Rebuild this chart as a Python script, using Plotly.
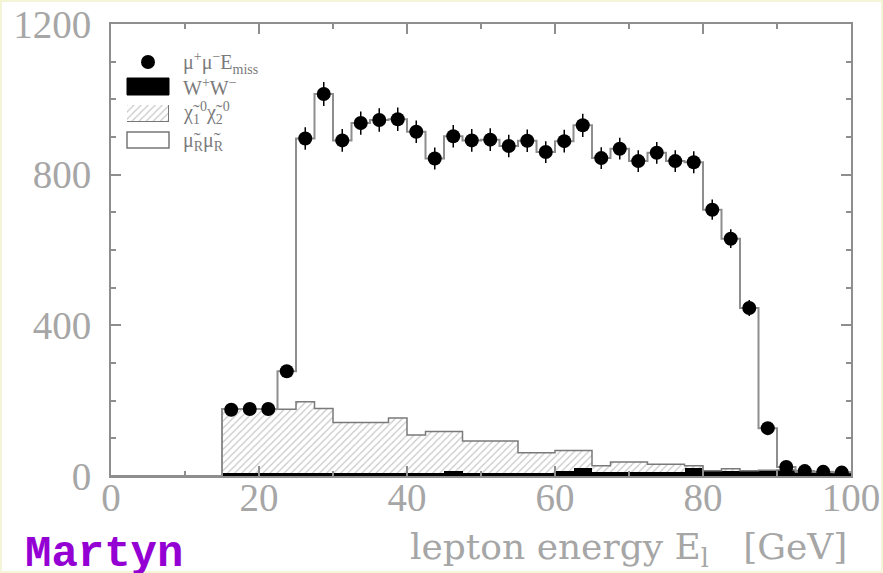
import plotly.graph_objects as go

# Histogram binning: 40 bins of 2.5 GeV from 0 to 100 GeV
bin_edges = [2.5 * i for i in range(41)]
bin_centers = [(a + b) / 2 for a, b in zip(bin_edges[:-1], bin_edges[1:])]
bin_width = 2.5

# Monte Carlo components per bin (events)
ww_counts = [0, 0, 0, 0, 0, 0,
             8, 8, 8, 8, 8, 8, 8, 8, 8, 8,
             8, 8, 12, 9, 9, 9, 9, 9, 14, 20,
             10, 10, 10, 10, 10, 22, 14, 14, 14, 14,
             16, 10, 10, 10]
chi_counts = [0, 0, 0, 0, 0, 0,
              169, 169, 169, 169, 189, 171, 134, 134, 134, 146,
              101, 110, 106, 84, 84, 84, 53, 53, 54, 48,
              17, 27, 27, 21, 21, 5, 0, 5, 0, 1,
              0, 0, 0, 0]
smuon_counts = [0, 0, 0, 0, 0, 0,
                1, 1, 1, 101, 699, 835, 749, 795, 803, 793,
                805, 725, 784, 798, 800, 783, 828, 798, 821, 863,
                817, 832, 799, 827, 805, 806, 693, 611, 432, 112,
                8, 3, 1, 0]

# Measured mu+ mu- E_miss events (bins from 15 to 100 GeV)
data_x = bin_centers[6:]
data_counts = [176, 178, 178, 278, 896, 1014, 891, 937, 945, 947,
               914, 843, 902, 891, 893, 876, 890, 860, 889, 931,
               844, 869, 836, 858, 836, 833, 707, 630, 446, 127,
               24, 13, 11, 9]
data_errors = [13, 13, 13, 17, 30, 32, 30, 31, 31, 31,
               30, 29, 30, 30, 30, 30, 30, 29, 30, 31,
               29, 29, 29, 29, 29, 29, 27, 25, 21, 11,
               5, 4, 3, 3]

x_ticks = [0, 20, 40, 60, 80, 100]
y_ticks = [0, 400, 800, 1200]

grey = "#8e8e8e"
label_grey = "#a6a6a6"
hatch_pattern = dict(shape="/", fgcolor="#8a8a8a", bgcolor="white", size=5, solidity=0.22)

lower_stack = [w + c for w, c in zip(ww_counts, chi_counts)]
total_stack = [l + s for l, s in zip(lower_stack, smuon_counts)]

fig = go.Figure()

fig.add_trace(go.Bar(x=bin_centers, y=ww_counts, width=bin_width,
                     marker=dict(color="black", line=dict(width=0)), showlegend=False))
fig.add_trace(go.Bar(x=bin_centers, y=chi_counts, width=bin_width,
                     marker=dict(color="#8a8a8a", pattern=hatch_pattern, line=dict(width=0)),
                     showlegend=False))
fig.add_trace(go.Bar(x=bin_centers, y=smuon_counts, width=bin_width,
                     marker=dict(color="rgba(255,255,255,0)", line=dict(width=0)),
                     showlegend=False))

# Outlines of the stacked histograms
fig.add_trace(go.Scatter(x=bin_edges, y=lower_stack + [lower_stack[-1]], mode="lines",
                         line=dict(shape="hv", color="#7a7a7a", width=1.5), showlegend=False))
fig.add_trace(go.Scatter(x=bin_edges, y=total_stack + [total_stack[-1]], mode="lines",
                         line=dict(shape="hv", color=grey, width=2), showlegend=False))

# Data points with statistical errors
fig.add_trace(go.Scatter(x=data_x, y=data_counts, mode="markers",
                         marker=dict(color="black", size=14),
                         error_y=dict(type="data", array=data_errors, color="black",
                                      thickness=1.5, width=0),
                         showlegend=False))

# Legend swatch with the hatch pattern, on its own small axes
L, R, T, B = 111, 851, 24, 476
W, H = R - L, B - T


def px(xp):
    return (xp - L) / W


def py(yp):
    return (B - yp) / H


fig.add_trace(go.Bar(x=[0.5], y=[1], width=1, xaxis="x2", yaxis="y2",
                     marker=dict(color="#8a8a8a", pattern=hatch_pattern,
                                 line=dict(color="#777", width=1.5)),
                     showlegend=False, hoverinfo="skip"))

axis_common = dict(showline=True, linecolor=grey, linewidth=2, mirror="allticks",
                   ticks="inside", ticklen=10, tickwidth=1.5, tickcolor=grey,
                   showgrid=False, zeroline=False, ticklabeloverflow="allow",
                   automargin=False,
                   tickfont=dict(family="Liberation Serif", size=39, color=label_grey))

fig.update_layout(
    width=883, height=573,
    margin=dict(l=L, r=883 - R, t=T, b=573 - B, autoexpand=False),
    paper_bgcolor="white", plot_bgcolor="white",
    barmode="stack", bargap=0,
    xaxis=dict(range=[0, 100], tickvals=x_ticks, ticklabelstandoff=-14,
               minor=dict(dtick=10, ticks="inside", ticklen=5, tickcolor=grey),
               **axis_common),
    yaxis=dict(range=[0, 1200], tickvals=y_ticks, ticklabelstandoff=10,
               minor=dict(dtick=100, ticks="inside", ticklen=5, tickcolor=grey),
               **axis_common),
    xaxis2=dict(domain=[px(127), px(169)], range=[0, 1], visible=False, anchor="y2"),
    yaxis2=dict(domain=[py(122), py(105)], range=[0, 1], visible=False, anchor="x2"),
)

# Legend: marker, filled box, empty box
shapes = [
    dict(type="circle", xref="paper", yref="paper",
         x0=px(141), x1=px(155), y0=py(69), y1=py(55),
         fillcolor="black", line=dict(width=0)),
    dict(type="rect", xref="paper", yref="paper",
         x0=px(127), x1=px(169), y0=py(95), y1=py(78),
         fillcolor="black", line=dict(color="black", width=1)),
    dict(type="rect", xref="paper", yref="paper",
         x0=px(127), x1=px(169), y0=py(148), y1=py(132),
         fillcolor="white", line=dict(color="#777", width=1.5)),
    # thin pale frame around the page
    dict(type="rect", xref="paper", yref="paper",
         x0=px(1), x1=px(882), y0=py(572), y1=py(1),
         line=dict(color="#f4f4d6", width=2), layer="below"),
]
fig.update_layout(shapes=shapes)

legend_font = dict(family="Liberation Serif", size=20, color="#7a7a7a")
legend_labels = [
    ("μ<sup>+</sup>μ<sup>−</sup>E<sub>miss</sub>", 63),
    ("W<sup>+</sup>W<sup>−</sup>", 87),
    ("χ̃<sub>1</sub><sup>0</sup>χ̃<sub>2</sub><sup>0</sup>", 113),
    ("μ̃<sub>R</sub>μ̃<sub>R</sub>", 141),
]
annotations = [dict(text=t, xref="paper", yref="paper", x=px(181), y=py(yy),
                    xanchor="left", yanchor="middle", showarrow=False, font=legend_font)
               for t, yy in legend_labels]

annotations.append(dict(text="lepton energy E<sub>l</sub>\u00a0\u00a0\u00a0[GeV]",
                        xref="paper", yref="paper",
                        x=px(849), y=py(549), xanchor="right", yanchor="middle",
                        showarrow=False,
                        font=dict(family="DejaVu Serif", size=36, color=label_grey)))
annotations.append(dict(text="<b>Martyn</b>", xref="paper", yref="paper",
                        x=px(23), y=py(554), xanchor="left", yanchor="middle",
                        showarrow=False,
                        font=dict(family="Liberation Mono", size=44, color="#9400d3")))
fig.update_layout(annotations=annotations)

fig.write_html("out.html")
